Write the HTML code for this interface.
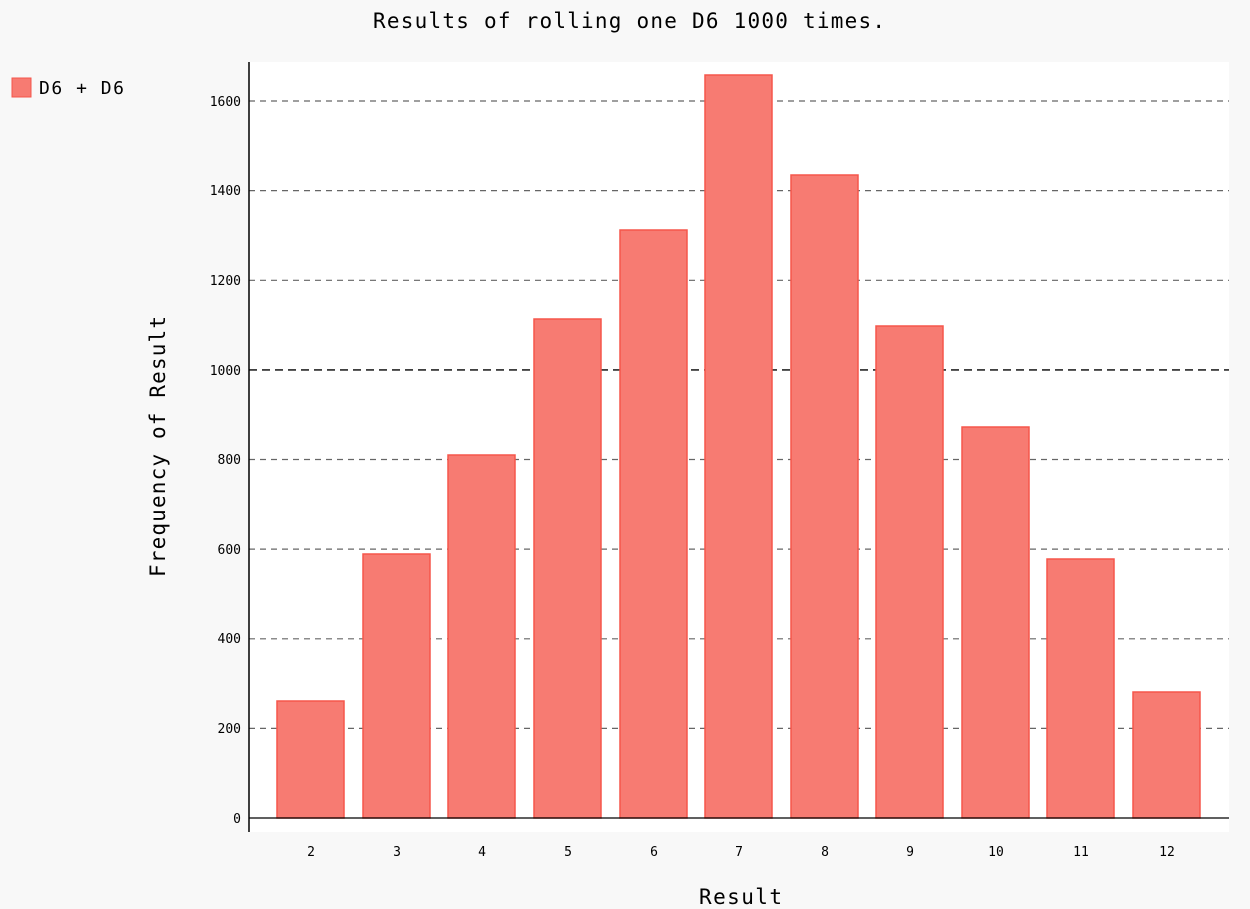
<!DOCTYPE html>
<html><head><style>body{margin:0;background:#f8f8f8}svg{display:block}</style></head><body>
<svg width="1250" height="909" xmlns="http://www.w3.org/2000/svg" font-family="'DejaVu Sans Mono','Liberation Mono',monospace">
<rect width="1250" height="909" fill="#f8f8f8"/>
<rect x="249" y="62" width="980" height="770" fill="#fff"/>
<text x="373" y="28" font-size="21" textLength="512" lengthAdjust="spacing" fill="#000">Results of rolling one D6 1000 times.</text>
<rect x="12" y="78" width="19" height="19" fill="#f77b72" stroke="#f5564b" stroke-width="1"/>
<text x="39" y="94" font-size="18" textLength="85" lengthAdjust="spacing" fill="#000">D6 + D6</text>
<g stroke="#666" stroke-width="1.2" stroke-dasharray="6,5">
<line x1="249" x2="1229" y1="101" y2="101"/><line x1="249" x2="1229" y1="190.6" y2="190.6"/><line x1="249" x2="1229" y1="280.3" y2="280.3"/>
<line x1="249" x2="1229" y1="459.5" y2="459.5"/><line x1="249" x2="1229" y1="549.1" y2="549.1"/><line x1="249" x2="1229" y1="638.8" y2="638.8"/><line x1="249" x2="1229" y1="728.4" y2="728.4"/>
</g>
<line x1="249" x2="1229" y1="369.9" y2="369.9" stroke="#000" stroke-width="1.4" stroke-dasharray="8,5"/>
<g font-size="13" fill="#000" text-anchor="end">
<text x="241" y="106">1600</text><text x="241" y="195">1400</text><text x="241" y="285">1200</text><text x="241" y="375">1000</text>
<text x="241" y="464">800</text><text x="241" y="554">600</text><text x="241" y="643">400</text><text x="241" y="733">200</text><text x="241" y="823">0</text>
</g>
<g fill="#f77b72" stroke="#f5564b" stroke-width="1.5">
<rect x="277" y="701" width="67" height="117"/>
<rect x="363" y="554" width="67" height="264"/>
<rect x="448" y="455" width="67" height="363"/>
<rect x="534" y="319" width="67" height="499"/>
<rect x="620" y="230" width="67" height="588"/>
<rect x="705" y="75" width="67" height="743"/>
<rect x="791" y="175" width="67" height="643"/>
<rect x="876" y="326" width="67" height="492"/>
<rect x="962" y="427" width="67" height="391"/>
<rect x="1047" y="559" width="67" height="259"/>
<rect x="1133" y="692" width="67" height="126"/>
</g>
<line x1="249" x2="1229" y1="818" y2="818" stroke="#000" stroke-width="1.2"/>
<line x1="249" x2="249" y1="62" y2="832" stroke="#000" stroke-width="1.5"/>
<g font-size="13" fill="#000" text-anchor="middle">
<text x="311" y="856">2</text><text x="397" y="856">3</text><text x="482" y="856">4</text><text x="568" y="856">5</text>
<text x="654" y="856">6</text><text x="739" y="856">7</text><text x="825" y="856">8</text><text x="910" y="856">9</text>
<text x="996" y="856">10</text><text x="1081" y="856">11</text><text x="1167" y="856">12</text>
</g>
<text x="699" y="904" font-size="21" textLength="83" lengthAdjust="spacing" fill="#000">Result</text>
<text transform="translate(165,577) rotate(-90)" font-size="21" textLength="261" lengthAdjust="spacing" fill="#000">Frequency of Result</text>
</svg>
</body></html>
